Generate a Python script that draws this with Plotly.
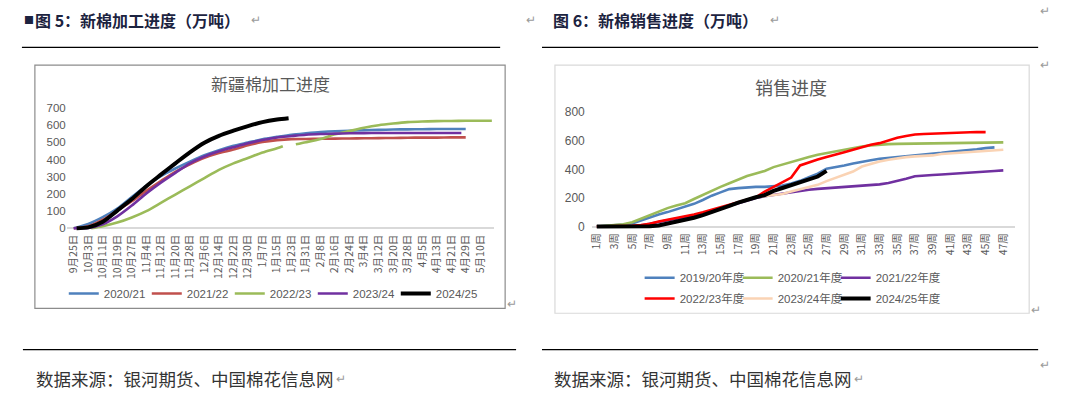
import plotly.graph_objects as go

W, H = 1078, 399
def fx(x): return x / W
def fy(y): return 1 - y / H

# ---------------- Left chart data (x in tick-index units) ----------------
left_ticks = ["9月25日", "10月3日", "10月11日", "10月19日", "10月27日", "11月4日", "11月12日",
              "11月20日", "11月28日", "12月6日", "12月14日", "12月22日", "12月30日", "1月7日",
              "1月15日", "1月23日", "1月31日", "2月8日", "2月16日", "2月24日", "3月4日", "3月12日",
              "3月20日", "3月28日", "4月5日", "4月13日", "4月21日", "4月29日", "5月10日"]

l2021_x = list(range(0, 28))
l2021_y = [0, 25, 65, 115, 182, 247, 304, 348, 388, 425, 455, 480, 499, 518, 532, 545, 553, 560,
           565, 568, 571, 573, 575, 576, 577, 578, 578, 578]

l2122_x = list(range(0, 28))
l2122_y = [0, 11, 50, 103, 157, 218, 275, 329, 372, 410, 438, 458, 483, 502, 513, 519, 520, 521,
           522, 523, 524, 525, 526, 527, 528, 528, 529, 529]

l2223_x = [1.2, 2, 3, 4, 5, 6, 7, 8, 9, 10, 11, 12, 13, 14, 14.4, None, 15.3, 16, 17, 18, 19, 20,
           21, 22, 23, 24, 25, 26, 27, 28, 28.8]
l2223_y = [0, 12, 33, 63, 100, 148, 196, 244, 292, 340, 378, 409, 441, 466, 478, None, 489, 501,
           520, 547, 566, 585, 600, 610, 618, 622, 624, 625, 626, 626, 626]

l2324_x = list(range(0, 27)) + [26.7]
l2324_y = [0, 2, 23, 69, 132, 203, 266, 323, 378, 418, 448, 472, 495, 514, 529, 537, 545, 549,
           551, 553, 554, 555, 555, 555, 555, 555, 555, 555]

l2425_x = [0.2, 1, 2, 3, 4, 5, 6, 7, 8, 9, 10, 11, 12, 13, 14, 14.8]
l2425_y = [0, 5, 38, 103, 170, 245, 312, 378, 442, 498, 538, 568, 595, 618, 633, 641]

left_names = ["2020/21", "2021/22", "2022/23", "2023/24", "2024/25"]
left_colors = ["#4f81bd", "#c0504d", "#9bbb59", "#7030a0", "#000000"]

# ---------------- Right chart data (weeks) ----------------
r_weeks = list(range(1, 48))
r_week_labels = [f"{w}周" for w in r_weeks]

r1920 = [0, 3, 9, 14, 21, 44, 67, 85, 101, 120, 136, 159, 186, 216, 239, 262, 269, 276, 278, 278,
         280, 287, 301, 320, 345, 370, 405, 415, 428, 441, 455, 464, 474, 480, 485, 490, 494, 501,
         508, 516, 524, 528, 533, 541, 549, 554]
r2021 = [0, 4, 9, 16, 30, 55, 78, 101, 129, 147, 163, 193, 223, 250, 278, 303, 331, 354, 372, 389,
         416, 434, 455, 471, 487, 503, 515, 526, 538, 549, 561, 568, 575, 577, 579, 580, 582, 583,
         584, 584, 584, 584, 584, 586, 589, 589, 589]
r2122 = [0, 0, 0, 2, 4, 8, 18, 32, 44, 54, 64, 76, 90, 108, 126, 146, 166, 185, 200, 212, 222, 232,
         242, 252, 258, 264, 268, 272, 275, 278, 282, 287, 295, 305, 318, 335, 352, 359, 361, 364,
         369, 372, 376, 380, 385, 389, 393]
r2223 = [0, 0, 0, 2, 5, 10, 20, 36, 48, 60, 70, 84, 100, 118, 136, 154, 170, 186, 205, 244, 278,
         308, 343, 428, 451, 469, 487, 501, 520, 538, 556, 572, 584, 605, 622, 634, 644, 648, 651,
         654, 657, 660, 662, 662, 661]
r2324 = [0, 0, 0, 0, 0, 0, 2, 8, 20, 32, 46, 62, 80, 100, 122, 145, 168, 190, 205, 212, 221, 228,
         245, 260, 275, 292, 318, 340, 360, 385, 420, 440, 455, 468, 478, 486, 491, 494, 498, 508,
         513, 518, 522, 526, 530, 534, 538]
r2425 = [0, 0, 0, 0, 0, 0, 2, 8, 20, 32, 46, 62, 80, 100, 122, 145, 168, 190, 205, 220, 250, 270,
         290, 308, 330, 350, 390]

right_names = ["2019/20年度", "2020/21年度", "2021/22年度", "2022/23年度", "2023/24年度", "2024/25年度"]
right_colors = ["#4f81bd", "#9bbb59", "#7030a0", "#ff0000", "#fad3b4", "#000000"]

FONT = "Liberation Sans, Noto Sans CJK SC, sans-serif"
CJK = "Noto Sans CJK SC, sans-serif"
GRAY = "#595959"

fig = go.Figure()

left_series = [(l2021_x, l2021_y), (l2122_x, l2122_y), (l2223_x, l2223_y),
               (l2324_x, l2324_y), (l2425_x, l2425_y)]
for (xs, ys), name, col in zip(left_series, left_names, left_colors):
    fig.add_trace(go.Scatter(
        x=xs, y=ys, name=name, mode="lines",
        line=dict(color=col, width=4 if col == "#000000" else 2.6, shape="spline", smoothing=0.8),
        xaxis="x", yaxis="y", legend="legend", connectgaps=False, hoverinfo="skip"))

right_series = [r1920, r2021, r2122, r2223, r2324, r2425]
for i, (ys, name, col) in enumerate(zip(right_series, right_names, right_colors)):
    fig.add_trace(go.Scatter(
        x=r_weeks[:len(ys)], y=ys, name=name, mode="lines",
        line=dict(color=col, width=4 if col == "#000000" else 2.6),
        xaxis="x2", yaxis="y2", legend="legend2" if i < 3 else "legend3", hoverinfo="skip"))

# empty legend spacers so the last legend label of each row is not clipped
for lg in ("legend2", "legend3"):
    fig.add_trace(go.Scatter(x=[None], y=[None], name="", mode="lines",
                             line=dict(width=0, color="rgba(0,0,0,0)"),
                             xaxis="x2", yaxis="y2", legend=lg, hoverinfo="skip"))

axis_common = dict(showgrid=False, showline=False, ticks="", fixedrange=True)

fig.update_layout(
    width=W, height=H, margin=dict(l=0, r=0, t=0, b=0),
    paper_bgcolor="white", plot_bgcolor="rgba(0,0,0,0)",
    font=dict(family=FONT, color=GRAY),
    hovermode=False,
    xaxis=dict(domain=[fx(63), fx(492)], range=[-0.48, 28.96], tickmode="array",
               tickvals=list(range(len(left_ticks))), ticktext=left_ticks, tickangle=-90,
               tickfont=dict(size=10.5, color=GRAY, family=CJK), zeroline=False, anchor="y",
               **axis_common),
    yaxis=dict(domain=[fy(233.2), fy(100.7)], range=[-20, 740], tickmode="array",
               tickvals=[0, 100, 200, 300, 400, 500, 600, 700],
               tickfont=dict(size=11.5, color=GRAY), zeroline=True, zerolinecolor="#d9d9d9",
               zerolinewidth=2, anchor="x", **axis_common),
    xaxis2=dict(domain=[fx(590), fx(1015)], range=[0.436, 48.35], tickmode="array",
                tickvals=r_weeks[::2], ticktext=r_week_labels[::2], tickangle=-90,
                tickfont=dict(size=10.5, color=GRAY, family=CJK), zeroline=False, anchor="y2",
                **axis_common),
    yaxis2=dict(domain=[fy(231.6), fy(107.6)], range=[-25, 830], tickmode="array",
                tickvals=[0, 200, 400, 600, 800], tickfont=dict(size=12, color=GRAY),
                zeroline=True, zerolinecolor="#d9d9d9", zerolinewidth=2, anchor="x2",
                ticklabelstandoff=6, **axis_common),
    legend=dict(orientation="h", x=fx(60), y=fy(296), xanchor="left", yanchor="middle",
                bgcolor="rgba(0,0,0,0)", font=dict(size=11.5, color=GRAY),
                entrywidth=38, entrywidthmode="pixels", tracegroupgap=0),
    legend2=dict(orientation="h", x=fx(638), y=fy(280), xanchor="left", yanchor="middle",
                 bgcolor="rgba(0,0,0,0)", font=dict(size=11.5, color=GRAY),
                 entrywidth=53, entrywidthmode="pixels"),
    legend3=dict(orientation="h", x=fx(638), y=fy(301), xanchor="left", yanchor="middle",
                 bgcolor="rgba(0,0,0,0)", font=dict(size=11.5, color=GRAY),
                 entrywidth=53, entrywidthmode="pixels"),
)

shapes = []
def hline(x0, x1, y, color="black", width=1.3):
    shapes.append(dict(type="line", xref="paper", yref="paper", x0=fx(x0), x1=fx(x1),
                       y0=fy(y), y1=fy(y), line=dict(color=color, width=width)))
def box(x0, y0, x1, y1, color):
    shapes.append(dict(type="rect", xref="paper", yref="paper", x0=fx(x0), x1=fx(x1),
                       y0=fy(y1), y1=fy(y0), line=dict(color=color, width=1.2),
                       fillcolor="rgba(0,0,0,0)", layer="below"))

hline(18, 498, 46)
hline(540, 1038, 46)
hline(19, 514, 353)
hline(540, 1038, 353)
box(31, 64, 503, 311, "#8c8c8c")
box(553, 64, 1029, 316, "#d9d9d9")
fig.update_layout(shapes=shapes)

ann = []
def text(x, y, s, size, color, family=CJK, xanchor="left"):
    ann.append(dict(x=fx(x), y=fy(y), xref="paper", yref="paper", text=s, showarrow=False,
                    xanchor=xanchor, yanchor="middle", font=dict(size=size, color=color,
                                                                  family=family)))

NAVY = "#1c2340"
MARK = "#9a9a9a"
text(18, 18, "■", 10, NAVY)
text(29, 18, "<b>图 5：新棉加工进度（万吨）</b>", 16, NAVY)
text(246, 17, "↵", 12, MARK)
text(522, 17, "↵", 12, MARK)
text(549, 18, "<b>图 6：新棉销售进度（万吨）</b>", 16, NAVY)
text(767, 17, "↵", 12, MARK)
text(1038, 8, "↵", 12, MARK)
text(1038, 62, "↵", 12, MARK)
text(503, 305, "↵", 12, MARK)
text(1029, 311, "↵", 12, MARK)
text(1038, 367, "↵", 12, MARK)

text(267, 83, "新疆棉加工进度", 17, GRAY, xanchor="center")
text(790, 86, "销售进度", 18, GRAY, xanchor="center")

text(30, 382, "数据来源：银河期货、中国棉花信息网", 17.5, "#333333")
text(331, 381, "↵", 12, MARK)
text(550, 382, "数据来源：银河期货、中国棉花信息网", 17.5, "#333333")
text(851, 381, "↵", 12, MARK)
fig.update_layout(annotations=ann)

fig.write_html("out.html", config={"displayModeBar": False},
               post_script="document.body.style.margin='0';")
